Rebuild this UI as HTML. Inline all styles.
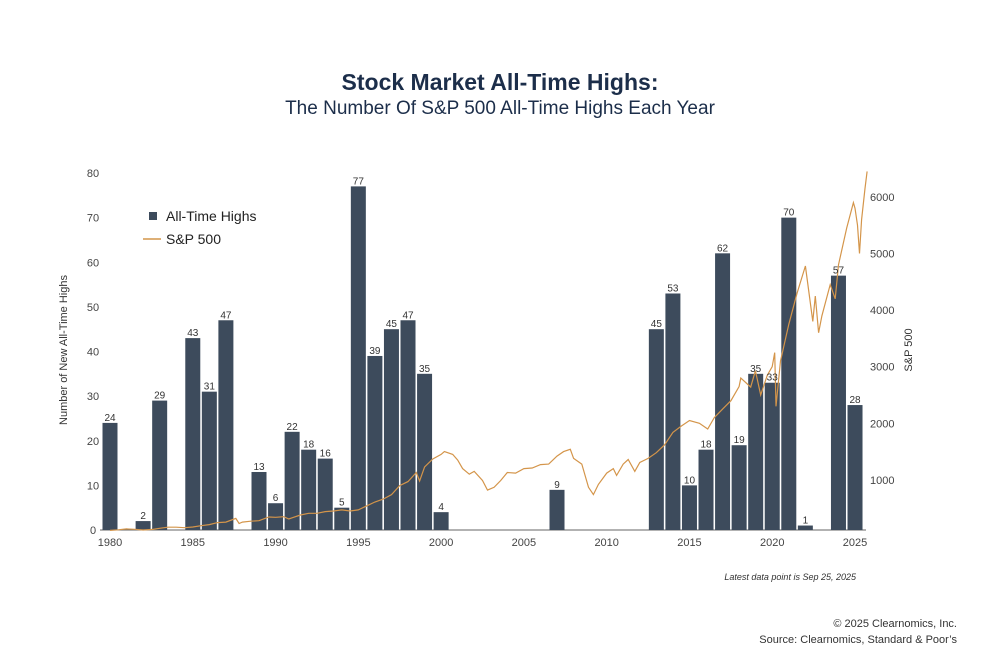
<!DOCTYPE html>
<html><head><meta charset="utf-8"><style>
body{margin:0;background:#fff;width:1000px;height:667px;overflow:hidden;font-family:"Liberation Sans",sans-serif}
</style></head><body>
<svg width="1000" height="667" xmlns="http://www.w3.org/2000/svg">
<text x="500" y="90" text-anchor="middle" font-size="23" font-weight="bold" fill="#1c2e4a">Stock Market All-Time Highs:</text>
<text x="500" y="114" text-anchor="middle" font-size="19" fill="#1c2e4a">The Number Of S&amp;P 500 All-Time Highs Each Year</text>
<g id="axes"></g>
<g id="bars"></g>
<path id="spx" fill="none" stroke="#d4954a" stroke-width="1.2"/>
<g id="labels"></g>
<g>
<rect x="149" y="212" width="8" height="8" fill="#3d4b5c"/>
<text x="166" y="221" font-size="14" fill="#222">All-Time Highs</text>
<line x1="143" y1="239" x2="161" y2="239" stroke="#d4954a" stroke-width="1.5"/>
<text x="166" y="244" font-size="14" fill="#222">S&amp;P 500</text>
</g>
<text transform="translate(67,350) rotate(-90)" text-anchor="middle" font-size="11" fill="#333">Number of New All-Time Highs</text>
<text transform="translate(912,350) rotate(-90)" text-anchor="middle" font-size="11" fill="#333">S&amp;P 500</text>
<text x="856" y="580" text-anchor="end" font-size="9" font-style="italic" fill="#333">Latest data point is Sep 25, 2025</text>
<text x="957" y="627" text-anchor="end" font-size="11" fill="#333">© 2025 Clearnomics, Inc.</text>
<text x="957" y="643" text-anchor="end" font-size="11" fill="#333">Source: Clearnomics, Standard &amp; Poor’s</text>
</svg>
<script>
const years=[1980,1981,1982,1983,1984,1985,1986,1987,1988,1989,1990,1991,1992,1993,1994,1995,1996,1997,1998,1999,2000,2001,2002,2003,2004,2005,2006,2007,2008,2009,2010,2011,2012,2013,2014,2015,2016,2017,2018,2019,2020,2021,2022,2023,2024,2025];
const highs=[24,0,2,29,0,43,31,47,0,13,6,22,18,16,5,77,39,45,47,35,4,0,0,0,0,0,0,9,0,0,0,0,0,45,53,10,18,62,19,35,33,70,1,0,57,28];
const leftTicks=[0,10,20,30,40,50,60,70,80];
const rightTicks=[1000,2000,3000,4000,5000,6000];
const xTicks=[1980,1985,1990,1995,2000,2005,2010,2015,2020,2025];
const spxDates=[1980,1980.5,1981,1981.5,1982,1982.6,1983,1983.5,1984,1984.5,1985,1985.5,1986,1986.5,1987,1987.6,1987.8,1988,1988.5,1989,1989.6,1990,1990.5,1990.8,1991,1991.5,1992,1992.5,1993,1993.5,1994,1994.5,1995,1995.5,1996,1996.5,1997,1997.5,1998,1998.5,1998.7,1999,1999.5,2000,2000.2,2000.7,2001,2001.3,2001.7,2002,2002.5,2002.8,2003.2,2003.6,2004,2004.5,2005,2005.5,2006,2006.5,2007,2007.4,2007.8,2008,2008.5,2008.9,2009.2,2009.5,2010,2010.4,2010.6,2011,2011.3,2011.7,2012,2012.5,2013,2013.5,2014,2014.5,2015,2015.6,2016.1,2016.5,2017,2017.5,2018,2018.1,2018.7,2018.98,2019.3,2019.7,2020,2020.15,2020.23,2020.5,2021,2021.5,2022,2022.45,2022.6,2022.8,2023,2023.5,2023.8,2024,2024.5,2024.9,2025,2025.15,2025.27,2025.4,2025.6,2025.73];
const spxValues=[108,118,135,128,115,125,145,165,165,155,168,190,210,245,255,320,230,255,270,280,345,340,350,310,330,380,410,410,440,450,470,450,470,540,610,660,740,900,970,1130,980,1230,1370,1450,1500,1450,1350,1200,1100,1150,990,820,870,990,1130,1120,1200,1210,1270,1280,1420,1500,1540,1380,1280,870,740,920,1120,1200,1080,1280,1360,1150,1310,1380,1480,1620,1840,1950,2050,2000,1900,2100,2250,2400,2650,2800,2640,2930,2500,2850,3000,3250,2300,3100,3750,4300,4780,3800,4250,3600,3900,4450,4200,4800,5450,5900,5800,5500,5000,5600,6150,6450];
const X=y=>110+(y-1980)*16.556;
const YL=v=>530-v*4.4625;
const YR=v=>536.5-v*0.0566;
const ns="http://www.w3.org/2000/svg";
function mk(tag,attrs,parent){const e=document.createElementNS(ns,tag);for(const k in attrs)e.setAttribute(k,attrs[k]);parent.appendChild(e);return e;}
const ax=document.getElementById('axes'),bg=document.getElementById('bars'),lg=document.getElementById('labels');
const base=mk('line',{x1:100,x2:866,y1:530,y2:530,stroke:'#666','stroke-width':1},ax);


leftTicks.forEach(t=>{const e=mk('text',{x:93,y:YL(t)+4,'text-anchor':'middle','font-size':11,fill:'#444'},ax);e.textContent=t;

});
rightTicks.forEach(t=>{const e=mk('text',{x:870,y:YR(t)+4,'font-size':11,fill:'#444'},ax);e.textContent=t;

});
xTicks.forEach(t=>{const e=mk('text',{x:X(t),y:546,'text-anchor':'middle','font-size':11,fill:'#444'},ax);e.textContent=t;

});
years.forEach((y,i)=>{const v=highs[i];if(v<=0)return;
const r=mk('rect',{x:X(y)-7.5,y:YL(v),width:15,height:530-YL(v),fill:'#3d4b5c'},bg);


const t=mk('text',{x:X(y),y:YL(v)-2,'text-anchor':'middle','font-size':10,fill:'#333'},lg);t.textContent=v;

});
document.getElementById('spx').setAttribute('d',spxDates.map((d,i)=>(i?'L':'M')+X(d).toFixed(1)+' '+YR(spxValues[i]).toFixed(1)).join(' '));
</script>
</body></html>
